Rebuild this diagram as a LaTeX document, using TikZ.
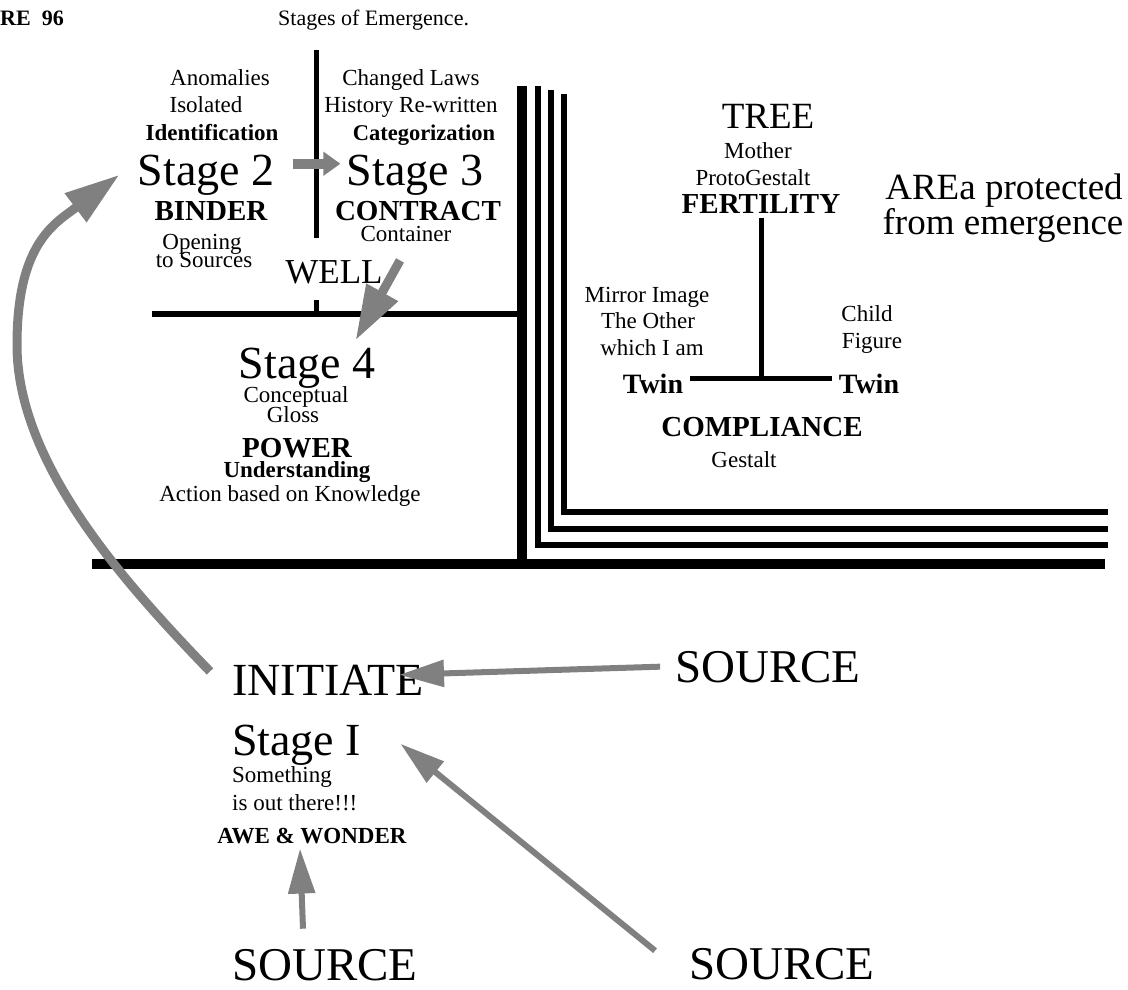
\documentclass[tikz,border=0pt]{standalone}
\usepackage{fontspec}
\setmainfont{Liberation Serif}
\usetikzlibrary{arrows.meta}
\definecolor{arrowgray}{RGB}{128,128,128}

\begin{document}
\begin{tikzpicture}[x=1pt, y=-1pt,
    every node/.style={inner sep=0pt, anchor=base, font=\fontsize{23}{23}\selectfont},
    hd/.style={font=\fontsize{29}{29}\selectfont\bfseries},
    hdsmall/.style={font=\fontsize{23}{23}\selectfont\bfseries},
    stage/.style={font=\fontsize{46}{46}\selectfont},
    big/.style={font=\fontsize{37}{37}\selectfont},
    wall/.style={line width=6pt, line join=miter},
    fat/.style={draw=arrowgray, line width=9pt, -{Triangle[length=55pt, width=34pt]}},
    nudge/.style={draw=arrowgray, line width=10pt, -{Triangle[length=17pt, width=23pt]}},
    thin/.style={draw=arrowgray, line width=6pt, -{Triangle[length=45pt, width=26pt]}}]
  \useasboundingbox (0,0) rectangle (1128,989);
  % header
  \node[font=\fontsize{22}{22}\selectfont\bfseries, anchor=base west] (fig)   at (0,25)   {RE~ 96};
  \node[font=\fontsize{22}{22}\selectfont, anchor=base west]          (title) at (278,25) {Stages of Emergence.};
  % stage 2 column
  \node            (anom)   at (220,85)  {Anomalies};
  \node            (isol)   at (206,112) {Isolated};
  \node[hdsmall]   (ident)  at (212,140) {Identification};
  \node[stage]     (stage2) at (206,185) {Stage 2};
  \node[hd]        (binder) at (211,220) {BINDER};
  \node            (open)   at (202,249) {Opening};
  \node            (tosrc)  at (204,267) {to Sources};
  \node[font=\fontsize{35}{35}\selectfont] (well) at (334,283) {WELL};
  % stage 3 column
  \node            (laws)   at (411,85)  {Changed Laws};
  \node            (hist)   at (411,112) {History Re-written};
  \node[hdsmall, font=\fontsize{22.5}{22.5}\selectfont\bfseries] (categ) at (424,140) {Categorization};
  \node[stage]     (stage3) at (415,185) {Stage 3};
  \node[hd]        (contr)  at (418,220) {CONTRACT};
  \node            (cont)   at (406,241) {Container};
  % stage 4 room
  \node[stage]     (stage4) at (307,378) {Stage 4};
  \node            (concep) at (296,402) {Conceptual};
  \node            (gloss)  at (293,422) {Gloss};
  \node[hd]        (power)  at (297,457) {POWER};
  \node[hdsmall]   (under)  at (297,477) {Understanding};
  \node            (action) at (290,501) {Action based on Knowledge};
  % tree inside the protected area
  \node[big]       (tree)   at (768,128) {TREE};
  \node            (mother) at (758,158) {Mother};
  \node            (proto)  at (753,185) {ProtoGestalt};
  \node[hd]        (fert)   at (761,213) {FERTILITY};
  \node[big]       (area)   at (1004,199) {AREa protected};
  \node[big]       (fromem) at (1003,234) {from emergence};
  \node            (mirror) at (647,302) {Mirror Image};
  \node            (other)  at (648,328) {The Other};
  \node            (which)  at (652,355) {which I am};
  \node            (child)  at (867,321) {Child};
  \node            (figure) at (872,348) {Figure};
  \node[font=\fontsize{28}{28}\selectfont\bfseries] (twinL) at (653,393) {Twin};
  \node[font=\fontsize{28}{28}\selectfont\bfseries] (twinR) at (869,393) {Twin};
  \node[hd]        (compl)  at (762,436) {COMPLIANCE};
  \node            (gestalt) at (744,467) {Gestalt};
  % stage I and the sources
  \node[stage, anchor=base west] (init)   at (232,695) {INITIATE};
  \node[stage, anchor=base west] (stage1) at (232,755) {Stage I};
  \node[anchor=base west]        (some)   at (232,782) {Something};
  \node[anchor=base west]        (out)    at (232,810) {is out there!!!};
  \node[hdsmall]                 (awe)    at (312,843) {AWE \& WONDER};
  \node[font=\fontsize{47}{47}\selectfont] (srcR)  at (768,682) {SOURCE};
  \node[font=\fontsize{47}{47}\selectfont] (srcBL) at (325,980) {SOURCE};
  \node[font=\fontsize{47}{47}\selectfont] (srcBR) at (782,979) {SOURCE};
  \coordinate (fork)  at (762,378);
  \coordinate (swing) at (17,345);

  % walls
  \draw[wall, line width=5pt] (316,50) -- (316,238);
  \draw[wall, line width=5pt] (316,300) -- (316,314);
  \draw[wall] (152,314) -- (522,314);
  \draw[wall, line width=10pt] (522,86) -- (522,564);
  \draw[wall, line width=10pt] (92,564) -- (1105,564);
  \draw[wall] (538,86) -- (538,545) -- (1108,545);
  \draw[wall] (551,90) -- (551,529) -- (1108,529);
  \draw[wall] (564,94) -- (564,512) -- (1108,512);
  % tree
  \draw[line width=5pt] ([yshift=-5pt]fert.south) -- (fert.south |- fork);
  \draw[line width=5pt, shorten <=7pt, shorten >=7pt] (twinL.east |- fork) -- (twinR.west |- fork);
  % gray arrows
  \draw[nudge] ([xshift=18pt, yshift=11pt]stage2.east) -- ([xshift=-6pt, yshift=11pt]stage3.west);
  \draw[fat] ([xshift=-6pt, yshift=-19pt]cont.south) -- ([xshift=-20pt, yshift=7pt]stage4.north east);
  \draw[fat] ([xshift=-22pt, yshift=-7pt]init.north west) .. controls +(-83,-86) and +(0,120) .. (swing)
    .. controls +(0,-102) and +(-65,49) .. ([xshift=-18pt]stage2.west);
  \draw[thin] ([xshift=-15pt]srcR.west) -- ([xshift=-25pt, yshift=5pt]init.east);
  \draw[thin] ([xshift=-22pt, yshift=20pt]srcBL.north) -- ([xshift=-12pt, yshift=-5pt]awe.south);
  \draw[thin] ([xshift=-34pt, yshift=-3pt]srcBR.north west) -- ([xshift=39pt, yshift=1pt]stage1.east);
\end{tikzpicture}
\end{document}
